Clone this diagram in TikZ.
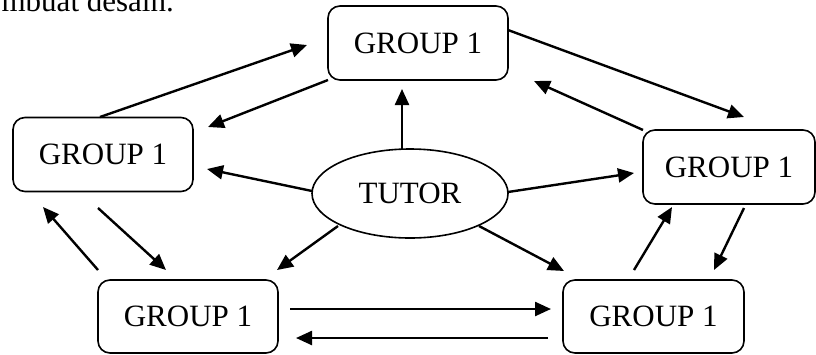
\documentclass[tikz,border=0pt]{standalone}
\usepackage{fontspec}
\setmainfont{Liberation Serif}
\usetikzlibrary{arrows.meta,shapes.geometric}
\begin{document}
\begin{tikzpicture}[x=1pt,y=-1pt,
  grp/.style={draw,line width=1.6pt,rounded corners=12pt,minimum width=180pt,minimum height=74pt,inner sep=0pt,font=\fontsize{31}{36}\selectfont},
  tut/.style={draw,line width=1.6pt,ellipse,minimum width=196pt,minimum height=89pt,inner sep=0pt,font=\fontsize{31}{36}\selectfont},
  arr/.style={line width=2.4pt,-{Triangle[length=16pt,width=14pt]}}]
\useasboundingbox (0,0) rectangle (816,354);
\clip (0,0) rectangle (816,354);
\node[anchor=base east,font=\fontsize{31}{36}\selectfont,inner sep=0pt] (cut) at (174,11) {mbuat desain.};
\node[grp] (top) at (418,43) {GROUP 1};
\node[grp] (left) at (103,154.5) {GROUP 1};
\node[grp,minimum width=172pt] (right) at (729,167) {GROUP 1};
\node[grp,minimum height=73pt] (bl) at (188,316.5) {GROUP 1};
\node[grp,minimum height=73pt,minimum width=181pt] (br) at (653.5,316.5) {GROUP 1};
\node[tut] (tutor) at (410,193.5) {TUTOR};
% free ends
\coordinate (a1s) at (100,117); \coordinate (a1e) at (307,45);
\coordinate (a2s) at (328,80);  \coordinate (a2e) at (208,127);
\coordinate (a3s) at (312,191); \coordinate (a3e) at (207,169);
\coordinate (a4s) at (402,149); \coordinate (a4e) at (402,89);
\coordinate (a5s) at (508,192); \coordinate (a5e) at (634,173);
\coordinate (a6s) at (508,30);  \coordinate (a6e) at (744,117);
\coordinate (a7s) at (643,130); \coordinate (a7e) at (534,81);
\coordinate (a8s) at (338,226); \coordinate (a8e) at (277,270);
\coordinate (a9s) at (479,226); \coordinate (a9e) at (564,271);
\coordinate (a10s) at (98,208); \coordinate (a10e) at (166,270);
\coordinate (a11s) at (98,270); \coordinate (a11e) at (43,207);
\coordinate (a12s) at (634,270); \coordinate (a12e) at (672,207);
\coordinate (a13s) at (744,208); \coordinate (a13e) at (714,270);
\coordinate (a14s) at (290,309); \coordinate (a14e) at (551,309);
\coordinate (a15s) at (548,338); \coordinate (a15e) at (296,338);
\draw[arr] (a1s) -- (a1e);
\draw[arr] (a2s) -- (a2e);
\draw[arr] (a3s) -- (a3e);
\draw[arr] (a4s) -- (a4e);
\draw[arr] (a5s) -- (a5e);
\draw[arr] (a6s) -- (a6e);
\draw[arr] (a7s) -- (a7e);
\draw[arr] (a8s) -- (a8e);
\draw[arr] (a9s) -- (a9e);
\draw[arr] (a10s) -- (a10e);
\draw[arr] (a11s) -- (a11e);
\draw[arr] (a12s) -- (a12e);
\draw[arr] (a13s) -- (a13e);
\draw[arr] (a14s) -- (a14e);
\draw[arr] (a15s) -- (a15e);
\end{tikzpicture}
\end{document}
